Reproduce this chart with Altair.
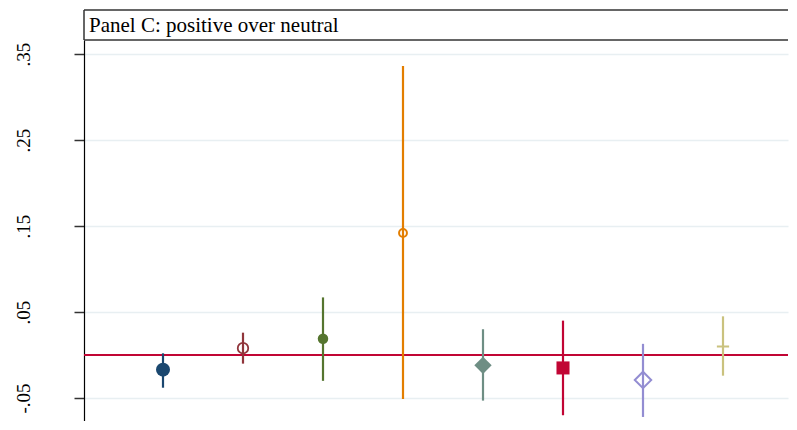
import altair as alt
import pandas as pd

title_text = "Panel C: positive over neutral"
names = ["s1", "s2", "s3", "s4", "s5", "s6", "s7", "s8"]
pos = [1, 2, 3, 4, 5, 6, 7, 8]
est = [-0.017, 0.008, 0.019, 0.142, -0.012, -0.015, -0.029, 0.010]
lo = [-0.038, -0.010, -0.030, -0.051, -0.053, -0.070, -0.072, -0.024]
hi = [0.002, 0.026, 0.067, 0.336, 0.030, 0.040, 0.013, 0.045]
tick_vals = [-0.05, 0.05, 0.15, 0.25, 0.35]

colors = ["#1a476f", "#90353b", "#55752f", "#e37e00", "#6e8e84", "#c10534", "#938dd2", "#cac27e"]
shapes = ["circle", "circle", "circle", "circle", "diamond", "square", "diamond", "M-1,0L1,0M0,-1L0,1"]
filled = [True, False, True, False, True, True, False, False]
sizes = [196, 110, 110, 62, 300, 170, 270, 150]
strokes = [1, 1.8, 1, 2, 1, 1, 2, 2]

df = pd.DataFrame({"name": names, "pos": pos, "est": est, "lo": lo, "hi": hi})

W = 704
H = 381
y_scale = alt.Scale(domain=[-0.0767, 0.3663], nice=False, zero=False)
x_scale = alt.Scale(domain=[0.0125, 8.8125], nice=False, zero=False)

yaxis = alt.Axis(
    values=tick_vals, title=None, grid=True,
    gridColor="#e8eff2", gridWidth=1.5,
    domainColor="black", domainWidth=1.2,
    tickColor="#333333", tickWidth=1.5, tickSize=10,
    labelAngle=270, labelAlign="center", labelBaseline="alphabetic",
    labelPadding=45, labelFont="Liberation Serif", labelFontSize=19,
    labelColor="black",
    labelExpr="replace(replace(format(datum.value, '.2f'), '0.', '.'), '\u2212', '-')",
)

zero_line = alt.Chart(pd.DataFrame({"z": [0.0]})).mark_rule(
    color="#c10534", strokeWidth=2
).encode(y=alt.Y("z:Q", scale=y_scale, axis=yaxis))

ci = alt.Chart(df).mark_rule(strokeWidth=2.2).encode(
    x=alt.X("pos:Q", scale=x_scale, axis=None),
    y=alt.Y("lo:Q", scale=y_scale, axis=yaxis),
    y2="hi:Q",
    color=alt.Color("name:N", scale=alt.Scale(domain=names, range=colors), legend=None),
)

layers = [zero_line, ci]
for i, nm in enumerate(names):
    layers.append(
        alt.Chart(df[df["name"] == nm]).mark_point(
            shape=shapes[i], filled=filled[i], size=sizes[i],
            color=colors[i], strokeWidth=strokes[i], opacity=1,
        ).encode(
            x=alt.X("pos:Q", scale=x_scale, axis=None),
            y=alt.Y("est:Q", scale=y_scale, axis=yaxis),
        )
    )

one = alt.Data(values=[{}])
box_top = alt.Chart(one).mark_rule(color="#333333", strokeWidth=1.5).encode(
    x=alt.value(0), x2=alt.value(W), y=alt.value(-30))
box_bot = alt.Chart(one).mark_rule(color="#333333", strokeWidth=1.5).encode(
    x=alt.value(0), x2=alt.value(W), y=alt.value(0))
box_left = alt.Chart(one).mark_rule(color="#333333", strokeWidth=1.5).encode(
    x=alt.value(0), y=alt.value(-30), y2=alt.value(0))
title_mark = alt.Chart(one).mark_text(
    text=title_text, font="Liberation Serif", fontSize=21,
    align="left", baseline="alphabetic", color="black",
).encode(x=alt.value(5), y=alt.value(-8))

layers += [box_top, box_bot, box_left, title_mark]

chart = alt.layer(*layers).properties(
    width=W, height=H,
    padding={"left": 6, "top": 1, "right": 0, "bottom": 0},
    background="white",
).configure_view(stroke=None)

chart.save("out.html", embed_options={"renderer": "svg", "actions": False})
